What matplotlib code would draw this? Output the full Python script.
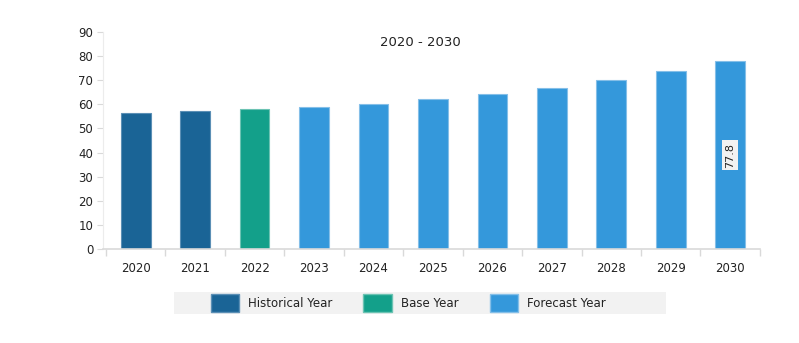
import numpy as np
import matplotlib.pyplot as plt
from matplotlib.patches import Patch, Rectangle

# ============================================================
# DATA
# ============================================================
years = ["2020", "2021", "2022", "2023", "2024", "2025",
         "2026", "2027", "2028", "2029", "2030"]
values = [56.2, 57.1, 57.9, 58.7, 60.1, 62.0, 64.2, 66.8, 69.9, 73.6, 77.8]
periods = ["Historical Year", "Historical Year", "Base Year"] + ["Forecast Year"] * 8

COLORS = {
    "Historical Year": "#1a6496",
    "Base Year": "#13a08a",
    "Forecast Year": "#3498db",
}
EDGES = {
    "Historical Year": "#5b8fb5",
    "Base Year": "#6cc3b3",
    "Forecast Year": "#85bfe8",
}
AXIS_GREY = "#d9d9d9"
TEXT = "#222222"

plt.rcParams["font.family"] = ["DejaVu Sans"]

fig = plt.figure(figsize=(7.99, 3.43), dpi=100)
ax = fig.add_axes([0.129, 0.274, 0.822, 0.633])

x = np.arange(len(years))
ax.bar(x, values, width=0.5,
       color=[COLORS[p] for p in periods],
       edgecolor=[EDGES[p] for p in periods], linewidth=0.8)

# value tag on the last bar
ax.text(x[-1], values[-1] / 2, f"{values[-1]}", rotation=90,
        ha="center", va="center", fontsize=8, color=TEXT,
        bbox=dict(boxstyle="square,pad=0.25", fc="#f2f2f2", ec="none"))

ax.text(0.483, 0.95, "2020 - 2030", transform=ax.transAxes,
        ha="center", va="center", fontsize=9.5, color=TEXT)

ax.set_xlim(-0.55, 10.5)
ax.set_ylim(0, 90)
ax.set_yticks(np.arange(0, 91, 10))
ax.set_xticks(x)
ax.set_xticklabels(years)
ax.set_xticks(np.arange(-0.5, 10.6, 1), minor=True)
ax.tick_params(axis="x", which="major", length=0, pad=9, labelsize=8.5, colors=TEXT)
ax.tick_params(axis="x", which="minor", length=5, color=AXIS_GREY, width=1)
ax.tick_params(axis="y", length=4, color=AXIS_GREY, labelsize=8.5, labelcolor=TEXT, pad=3)

for side in ["top", "right"]:
    ax.spines[side].set_visible(False)
ax.spines["left"].set_color("#ececec")
ax.spines["bottom"].set_color(AXIS_GREY)
ax.spines["bottom"].set_linewidth(1.2)

# legend on a light grey band
fig.add_artist(Rectangle((174 / 799, 1 - 314 / 343), 492 / 799, 22 / 343,
                         transform=fig.transFigure, fc="#f2f2f2", ec="none"))
handles = [Patch(fc=COLORS[k], ec=EDGES[k], label=k) for k in COLORS]
fig.legend(handles=handles, loc="center left", bbox_to_anchor=(200 / 799, 1 - 303 / 343),
           ncol=3, frameon=False, fontsize=8.5, handlelength=2.4,
           handleheight=1.9, handletextpad=0.8, columnspacing=2.6,
           labelcolor=TEXT)

fig.savefig("out.png", dpi=100)
